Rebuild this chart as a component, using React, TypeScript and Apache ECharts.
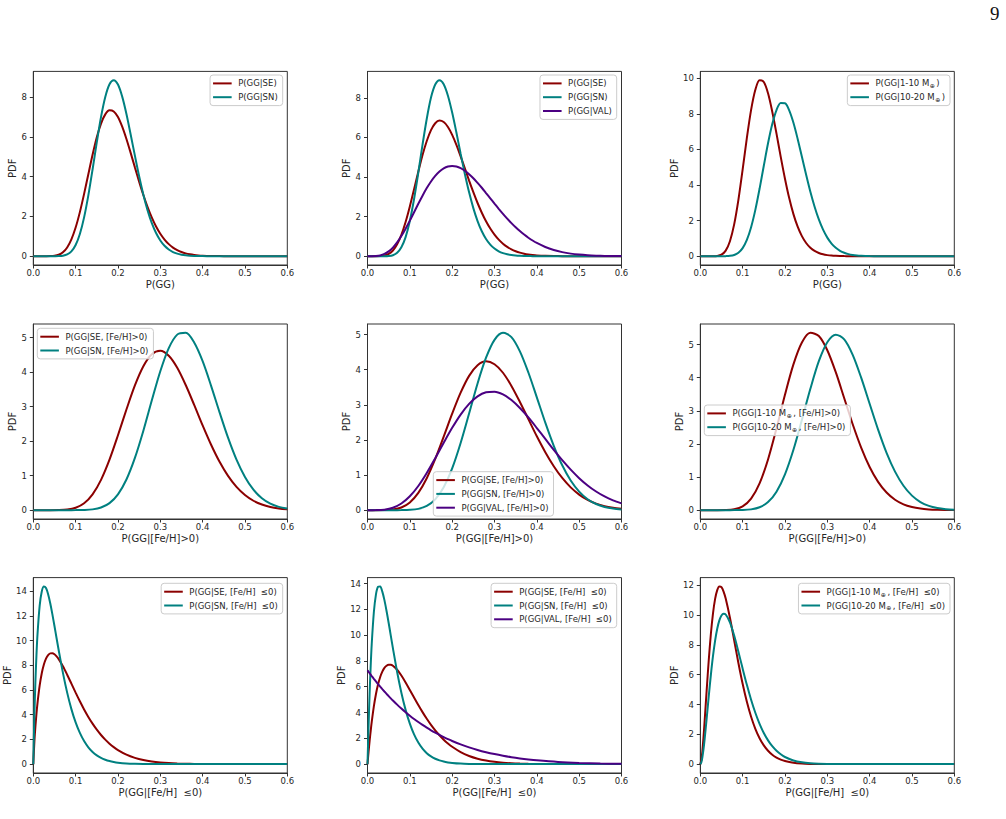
import React, { useEffect, useRef } from "react";
import * as echarts from "echarts";

// ---- sample positions along P(GG) ----
const X_ROW1 = [0, 0.01, 0.02, 0.03, 0.04, 0.05, 0.06, 0.07, 0.08, 0.09, 0.1, 0.11, 0.12, 0.13, 0.14, 0.15, 0.16, 0.17, 0.18, 0.19, 0.2, 0.21, 0.22, 0.23, 0.24, 0.25, 0.26, 0.27, 0.28, 0.29, 0.3, 0.31, 0.32, 0.33, 0.34, 0.35, 0.36, 0.37, 0.38, 0.39, 0.4, 0.42, 0.44, 0.46, 0.48, 0.5, 0.52, 0.54, 0.56, 0.58, 0.6];
const X_ROW2 = [0, 0.02, 0.04, 0.06, 0.08, 0.1, 0.12, 0.14, 0.16, 0.18, 0.2, 0.22, 0.24, 0.26, 0.28, 0.3, 0.32, 0.34, 0.36, 0.38, 0.4, 0.42, 0.44, 0.46, 0.48, 0.5, 0.52, 0.54, 0.56, 0.58, 0.6];
const X_ROW3 = [0, 0.0025, 0.005, 0.0075, 0.01, 0.015, 0.02, 0.025, 0.03, 0.035, 0.04, 0.045, 0.05, 0.055, 0.06, 0.07, 0.08, 0.09, 0.1, 0.11, 0.12, 0.13, 0.14, 0.15, 0.16, 0.17, 0.18, 0.19, 0.2, 0.22, 0.24, 0.26, 0.28, 0.3, 0.32, 0.34, 0.36, 0.38, 0.4, 0.45, 0.5, 0.55, 0.6];

// ---- row 1: P(GG) ----
const GG_SE = [0, 0, 0, 0.0004, 0.004, 0.02, 0.072, 0.196, 0.44, 0.848, 1.44, 2.216, 3.133, 4.124, 5.102, 5.983, 6.671, 7.133, 7.335, 7.277, 6.999, 6.513, 5.893, 5.195, 4.467, 3.75, 3.076, 2.471, 1.94, 1.494, 1.13, 0.837, 0.608, 0.433, 0.304, 0.209, 0.141, 0.094, 0.061, 0.039, 0.025, 0.01, 0.004, 0.001, 0, 0, 0, 0, 0, 0, 0];
const GG_SN = [0, 0, 0, 0, 0, 0.001, 0.005, 0.025, 0.088, 0.244, 0.565, 1.119, 1.953, 3.06, 4.359, 5.733, 7.003, 8.008, 8.648, 8.85, 8.631, 8.023, 7.152, 6.119, 5.055, 4.02, 3.094, 2.306, 1.663, 1.165, 0.791, 0.524, 0.337, 0.21, 0.128, 0.076, 0.044, 0.025, 0.014, 0.007, 0.004, 0.001, 0, 0, 0, 0, 0, 0, 0, 0, 0];

const GG3_SE = [0, 0, 0, 0.006, 0.032, 0.112, 0.288, 0.603, 1.082, 1.728, 2.513, 3.381, 4.268, 5.11, 5.82, 6.368, 6.714, 6.85, 6.775, 6.528, 6.131, 5.625, 5.044, 4.434, 3.82, 3.236, 2.687, 2.197, 1.765, 1.397, 1.089, 0.836, 0.632, 0.471, 0.346, 0.251, 0.179, 0.126, 0.087, 0.06, 0.04, 0.018, 0.007, 0.003, 0.001, 0, 0, 0, 0, 0, 0];
const GG3_SN = [0, 0, 0, 0, 0.001, 0.011, 0.051, 0.171, 0.448, 0.965, 1.779, 2.889, 4.217, 5.635, 6.944, 8.012, 8.67, 8.89, 8.688, 8.108, 7.257, 6.246, 5.175, 4.153, 3.225, 2.428, 1.775, 1.261, 0.872, 0.588, 0.386, 0.247, 0.154, 0.094, 0.056, 0.033, 0.019, 0.01, 0.006, 0.003, 0.002, 0.001, 0, 0, 0, 0, 0, 0, 0, 0, 0];
const GG3_VAL = [0, 0.001, 0.009, 0.04, 0.113, 0.242, 0.436, 0.697, 1.017, 1.389, 1.796, 2.22, 2.647, 3.057, 3.44, 3.775, 4.057, 4.277, 4.439, 4.533, 4.56, 4.533, 4.452, 4.316, 4.143, 3.941, 3.704, 3.457, 3.191, 2.925, 2.657, 2.395, 2.141, 1.899, 1.673, 1.463, 1.268, 1.093, 0.934, 0.792, 0.668, 0.464, 0.313, 0.205, 0.13, 0.08, 0.047, 0.027, 0.015, 0.008, 0.004];

const GG_M1 = [0, 0, 0, 0.001, 0.015, 0.086, 0.315, 0.843, 1.789, 3.169, 4.868, 6.643, 8.219, 9.351, 9.89, 9.79, 9.157, 8.121, 6.887, 5.582, 4.356, 3.266, 2.365, 1.656, 1.126, 0.741, 0.474, 0.295, 0.179, 0.105, 0.061, 0.034, 0.019, 0.01, 0.005, 0.003, 0.001, 0, 0, 0, 0, 0, 0, 0, 0, 0, 0, 0, 0, 0, 0];
const GG_M2 = [0, 0, 0, 0, 0, 0.001, 0.004, 0.019, 0.069, 0.194, 0.455, 0.916, 1.628, 2.603, 3.787, 5.081, 6.344, 7.423, 8.211, 8.607, 8.598, 8.195, 7.498, 6.591, 5.587, 4.575, 3.617, 2.778, 2.064, 1.49, 1.045, 0.712, 0.473, 0.305, 0.192, 0.118, 0.07, 0.041, 0.023, 0.013, 0.007, 0.002, 0.001, 0, 0, 0, 0, 0, 0, 0, 0];

// ---- row 2: [Fe/H] > 0 ----
const RICH_SE = [0, 0, 0, 0.002, 0.016, 0.068, 0.199, 0.459, 0.879, 1.463, 2.17, 2.917, 3.616, 4.172, 4.519, 4.62, 4.475, 4.127, 3.627, 3.051, 2.456, 1.895, 1.401, 0.993, 0.674, 0.439, 0.272, 0.162, 0.091, 0.049, 0.025];
const RICH_SN = [0, 0, 0, 0, 0, 0.001, 0.005, 0.022, 0.075, 0.203, 0.458, 0.888, 1.513, 2.302, 3.183, 4.027, 4.697, 5.088, 5.139, 4.859, 4.318, 3.604, 2.835, 2.1, 1.464, 0.963, 0.594, 0.345, 0.187, 0.095, 0.045];

const RICH3_SE = [0, 0, 0.002, 0.017, 0.075, 0.22, 0.492, 0.91, 1.457, 2.093, 2.747, 3.345, 3.825, 4.127, 4.24, 4.156, 3.914, 3.538, 3.082, 2.592, 2.103, 1.651, 1.252, 0.916, 0.648, 0.443, 0.291, 0.185, 0.112, 0.066, 0.037];
const RICH3_SN = [0, 0, 0, 0, 0.001, 0.008, 0.036, 0.118, 0.305, 0.651, 1.189, 1.912, 2.752, 3.609, 4.342, 4.852, 5.05, 4.93, 4.524, 3.921, 3.214, 2.493, 1.834, 1.277, 0.843, 0.528, 0.311, 0.174, 0.091, 0.045, 0.021];
const RICH3_VAL = [0, 0.001, 0.014, 0.067, 0.188, 0.394, 0.688, 1.059, 1.48, 1.919, 2.344, 2.723, 3.028, 3.241, 3.356, 3.373, 3.296, 3.136, 2.909, 2.64, 2.339, 2.028, 1.716, 1.422, 1.153, 0.911, 0.704, 0.53, 0.389, 0.279, 0.193];

const RICH_M1 = [0, 0, 0, 0.003, 0.025, 0.113, 0.347, 0.81, 1.531, 2.466, 3.483, 4.401, 5.062, 5.354, 5.259, 4.83, 4.166, 3.38, 2.595, 1.89, 1.304, 0.854, 0.531, 0.314, 0.175, 0.093, 0.046, 0.022, 0.01, 0.004, 0.002];
const RICH_M2 = [0, 0, 0, 0, 0.001, 0.004, 0.023, 0.086, 0.243, 0.558, 1.083, 1.825, 2.729, 3.665, 4.498, 5.072, 5.3, 5.159, 4.691, 4.001, 3.215, 2.432, 1.731, 1.163, 0.736, 0.438, 0.245, 0.129, 0.063, 0.029, 0.012];

// ---- row 3: [Fe/H] <= 0 ----
const POOR_SE = [0, 1.782, 3.047, 4.089, 4.97, 6.359, 7.365, 8.074, 8.549, 8.835, 8.97, 8.98, 8.896, 8.731, 8.505, 7.926, 7.243, 6.517, 5.789, 5.088, 4.43, 3.825, 3.279, 2.791, 2.36, 1.984, 1.659, 1.38, 1.142, 0.769, 0.509, 0.33, 0.21, 0.131, 0.081, 0.049, 0.029, 0.017, 0.009, 0.002, 0, 0, 0];
const POOR_SN = [0, 3.908, 6.702, 8.866, 10.55, 12.82, 13.99, 14.39, 14.26, 13.76, 13.03, 12.15, 11.19, 10.2, 9.228, 7.394, 5.793, 4.455, 3.375, 2.524, 1.865, 1.364, 0.988, 0.709, 0.504, 0.356, 0.249, 0.173, 0.119, 0.055, 0.025, 0.011, 0.005, 0.002, 0.001, 0, 0, 0, 0, 0, 0, 0, 0];

const POOR3_SE = [0, 0.937, 1.791, 2.565, 3.268, 4.469, 5.431, 6.183, 6.756, 7.173, 7.458, 7.629, 7.7, 7.7, 7.62, 7.316, 6.866, 6.329, 5.749, 5.159, 4.58, 4.029, 3.514, 3.042, 2.615, 2.234, 1.896, 1.6, 1.343, 0.931, 0.632, 0.421, 0.276, 0.177, 0.111, 0.068, 0.041, 0.024, 0.014, 0.003, 0, 0, 0];
const POOR3_SN = [0, 2.938, 5.477, 7.589, 9.315, 11.77, 13.16, 13.75, 13.77, 13.37, 12.71, 11.87, 10.94, 9.963, 8.986, 7.145, 5.538, 4.205, 3.139, 2.308, 1.675, 1.201, 0.851, 0.598, 0.416, 0.287, 0.196, 0.133, 0.089, 0.039, 0.017, 0.007, 0.003, 0.001, 0, 0, 0, 0, 0, 0, 0, 0, 0];
const POOR3_VAL = [7.27, 7.157, 7.045, 6.935, 6.826, 6.613, 6.405, 6.203, 6.006, 5.815, 5.629, 5.448, 5.271, 5.099, 4.933, 4.613, 4.311, 4.025, 3.755, 3.501, 3.262, 3.036, 2.824, 2.624, 2.436, 2.26, 2.094, 1.94, 1.794, 1.531, 1.301, 1.101, 0.927, 0.777, 0.648, 0.537, 0.443, 0.363, 0.295, 0.171, 0.094, 0.049, 0.023];

const POOR_M1 = [0, 0.268, 0.906, 1.775, 2.78, 4.932, 6.987, 8.746, 10.12, 11.09, 11.68, 11.92, 11.87, 11.58, 11.11, 9.82, 8.307, 6.789, 5.392, 4.183, 3.177, 2.37, 1.739, 1.257, 0.896, 0.631, 0.439, 0.301, 0.205, 0.092, 0.039, 0.016, 0.006, 0.002, 0.001, 0, 0, 0, 0, 0, 0, 0, 0];
const POOR_M2 = [0, 0.13, 0.476, 0.985, 1.607, 3.047, 4.562, 5.995, 7.256, 8.292, 9.088, 9.642, 9.969, 10.09, 10.04, 9.516, 8.627, 7.545, 6.411, 5.319, 4.32, 3.446, 2.703, 2.09, 1.594, 1.201, 0.894, 0.658, 0.479, 0.246, 0.122, 0.058, 0.027, 0.012, 0.005, 0.002, 0, 0, 0, 0, 0, 0, 0];

// ---- tick labels ----
const X_TICKS = [0, 0.1, 0.2, 0.3, 0.4, 0.5, 0.6];
const Y_TICKS_8 = [0, 2, 4, 6, 8];
const Y_TICKS_10 = [0, 2, 4, 6, 8, 10];
const Y_TICKS_5 = [0, 1, 2, 3, 4, 5];
const Y_TICKS_12 = [0, 2, 4, 6, 8, 10, 12];
const Y_TICKS_14 = [0, 2, 4, 6, 8, 10, 12, 14];

const X_LABELS = ["P(GG)", "P(GG|[Fe/H]>0)", "P(GG|[Fe/H]  \u22640)"];

// ---- styles ----
const C_SE = "#8b0000";
const C_SN = "#008080";
const C_VAL = "#4b0082";
const FONT = "DejaVu Sans";
const INK = "#262626";
const SPINE = "#333333";

const COL_LEFT = [33.3, 367.5, 700.3];
const ROW_TOP = [71.4, 324, 577.6];
const ROW_H = [193.6, 195, 195.4];
const PLOT_W = 254;

type Curve = { name: string; color: string; ys: number[] };
type Panel = {
  xs: number[];
  curves: Curve[];
  yTicks: number[];
  yNameGap: number;
  legend: Record<string, number>;
};

const PANELS: Panel[] = [
  {
    xs: X_ROW1, yTicks: Y_TICKS_8, yNameGap: 13,
    curves: [
      { name: "P(GG|SE)", color: C_SE, ys: GG_SE },
      { name: "P(GG|SN)", color: C_SN, ys: GG_SN },
    ],
    legend: { right: 723.3, top: 75 },
  },
  {
    xs: X_ROW1, yTicks: Y_TICKS_8, yNameGap: 13,
    curves: [
      { name: "P(GG|SE)", color: C_SE, ys: GG3_SE },
      { name: "P(GG|SN)", color: C_SN, ys: GG3_SN },
      { name: "P(GG|VAL)", color: C_VAL, ys: GG3_VAL },
    ],
    legend: { right: 389.3, top: 75 },
  },
  {
    xs: X_ROW1, yTicks: Y_TICKS_10, yNameGap: 17,
    curves: [
      { name: "P(GG|1-10 M\u2295)", color: C_SE, ys: GG_M1 },
      { name: "P(GG|10-20 M\u2295)", color: C_SN, ys: GG_M2 },
    ],
    legend: { right: 56, top: 75 },
  },
  {
    xs: X_ROW2, yTicks: Y_TICKS_5, yNameGap: 13,
    curves: [
      { name: "P(GG|SE, [Fe/H]>0)", color: C_SE, ys: RICH_SE },
      { name: "P(GG|SN, [Fe/H]>0)", color: C_SN, ys: RICH_SN },
    ],
    legend: { left: 37.3, top: 328.3 },
  },
  {
    xs: X_ROW2, yTicks: Y_TICKS_5, yNameGap: 13,
    curves: [
      { name: "P(GG|SE, [Fe/H]>0)", color: C_SE, ys: RICH3_SE },
      { name: "P(GG|SN, [Fe/H]>0)", color: C_SN, ys: RICH3_SN },
      { name: "P(GG|VAL, [Fe/H]>0)", color: C_VAL, ys: RICH3_VAL },
    ],
    legend: { left: 433.3, top: 471.7 },
  },
  {
    xs: X_ROW2, yTicks: Y_TICKS_5, yNameGap: 13,
    curves: [
      { name: "P(GG|1-10 M\u2295, [Fe/H]>0)", color: C_SE, ys: RICH_M1 },
      { name: "P(GG|10-20 M\u2295, [Fe/H]>0)", color: C_SN, ys: RICH_M2 },
    ],
    legend: { left: 704.3, top: 405 },
  },
  {
    xs: X_ROW3, yTicks: Y_TICKS_14, yNameGap: 18,
    curves: [
      { name: "P(GG|SE, [Fe/H]  \u22640)", color: C_SE, ys: POOR_SE },
      { name: "P(GG|SN, [Fe/H]  \u22640)", color: C_SN, ys: POOR_SN },
    ],
    legend: { right: 723.3, top: 583.3 },
  },
  {
    xs: X_ROW3, yTicks: Y_TICKS_14, yNameGap: 18,
    curves: [
      { name: "P(GG|SE, [Fe/H]  \u22640)", color: C_SE, ys: POOR3_SE },
      { name: "P(GG|SN, [Fe/H]  \u22640)", color: C_SN, ys: POOR3_SN },
      { name: "P(GG|VAL, [Fe/H]  \u22640)", color: C_VAL, ys: POOR3_VAL },
    ],
    legend: { right: 389.3, top: 583.3 },
  },
  {
    xs: X_ROW3, yTicks: Y_TICKS_12, yNameGap: 18,
    curves: [
      { name: "P(GG|1-10 M\u2295, [Fe/H]  \u22640)", color: C_SE, ys: POOR_M1 },
      { name: "P(GG|10-20 M\u2295, [Fe/H]  \u22640)", color: C_SN, ys: POOR_M2 },
    ],
    legend: { right: 56, top: 583.3 },
  },
];

function buildOption() {
  const grid: any[] = [];
  const xAxis: any[] = [];
  const yAxis: any[] = [];
  const series: any[] = [];
  const legend: any[] = [];

  PANELS.forEach((p, i) => {
    const row = Math.floor(i / 3);
    const col = i % 3;
    grid.push({
      left: COL_LEFT[col],
      top: ROW_TOP[row],
      width: PLOT_W,
      height: ROW_H[row],
      show: true,
      borderColor: SPINE,
      borderWidth: 1,
      backgroundColor: "transparent",
    });

    xAxis.push({
      type: "value",
      gridIndex: i,
      min: 0,
      max: 0.6,
      name: X_LABELS[row],
      nameLocation: "middle",
      nameGap: 14,
      nameTextStyle: { fontFamily: FONT, fontSize: 10, color: INK },
      axisLine: { show: true, onZero: false, lineStyle: { color: SPINE, width: 1 } },
      axisTick: { show: true, inside: false, length: 3.5, customValues: X_TICKS, lineStyle: { color: SPINE, width: 1 } },
      axisLabel: {
        customValues: X_TICKS,
        formatter: (v: number) => v.toFixed(1),
        margin: 3.5,
        fontFamily: FONT,
        fontSize: 8.5,
        color: INK,
      },
      splitLine: { show: false },
    });

    // 5% padding above and below the data, as an autoscaled axis would
    const peak = Math.max(...p.curves.flatMap((c) => c.ys));
    yAxis.push({
      type: "value",
      gridIndex: i,
      min: -0.05 * peak,
      max: 1.05 * peak,
      name: "PDF",
      nameLocation: "middle",
      nameGap: p.yNameGap,
      nameRotate: 90,
      nameTextStyle: { fontFamily: FONT, fontSize: 10, color: INK },
      axisLine: { show: true, onZero: false, lineStyle: { color: SPINE, width: 1 } },
      axisTick: { show: true, inside: false, length: 3.5, customValues: p.yTicks, lineStyle: { color: SPINE, width: 1 } },
      axisLabel: {
        customValues: p.yTicks,
        formatter: (v: number) => String(Math.round(v)),
        margin: 6.5,
        fontFamily: FONT,
        fontSize: 8.5,
        color: INK,
      },
      splitLine: { show: false },
    });

    p.curves.forEach((c) => {
      series.push({
        type: "line",
        name: c.name,
        xAxisIndex: i,
        yAxisIndex: i,
        data: p.xs.map((x, k) => [x, c.ys[k]]),
        showSymbol: false,
        symbol: "none",
        smooth: 0.3,
        lineStyle: { width: 2, color: c.color },
        itemStyle: { color: c.color },
        emphasis: { disabled: true },
      });
    });

    legend.push({
      ...p.legend,
      orient: "vertical",
      align: "left",
      data: p.curves.map((c) => ({ name: c.name, itemStyle: { color: c.color } })),
      icon: "rect",
      itemWidth: 18.6,
      itemHeight: 2,
      itemGap: 3,
      padding: [3, 5, 3, 3],
      backgroundColor: "rgba(255,255,255,0.8)",
      borderColor: "#cccccc",
      borderWidth: 1,
      borderRadius: 3,
      selectedMode: false,
      formatter: (n: string) => n.replace(/M\u2295/g, "M{sub|\u2295}"),
      textStyle: {
        fontFamily: FONT,
        fontSize: 8.5,
        color: INK,
        lineHeight: 10.8,
        padding: [0, 0, 0, 1.5],
        rich: {
          sub: { fontFamily: FONT, fontSize: 6, color: INK, verticalAlign: "bottom", lineHeight: 10.8, padding: [0, 1.5, 0, 0.5] },
        },
      },
    });
  });

  return {
    animation: false,
    backgroundColor: "#ffffff",
    grid,
    xAxis,
    yAxis,
    series,
    legend,
    graphic: [
      {
        type: "text",
        left: 990,
        top: 4,
        style: { text: "9", fontFamily: "Liberation Serif", fontSize: 19, fill: "#111111" },
      },
    ],
  };
}

export default function App() {
  const ref = useRef<HTMLDivElement>(null);

  useEffect(() => {
    if (!ref.current) return;
    const chart = echarts.init(ref.current, null, { renderer: "svg" });
    chart.setOption(buildOption() as any);
    return () => chart.dispose();
  }, []);

  return (
    <div
      ref={ref}
      style={{ position: "absolute", left: 0, top: 0, width: 1006, height: 819, background: "#ffffff" }}
    />
  );
}
